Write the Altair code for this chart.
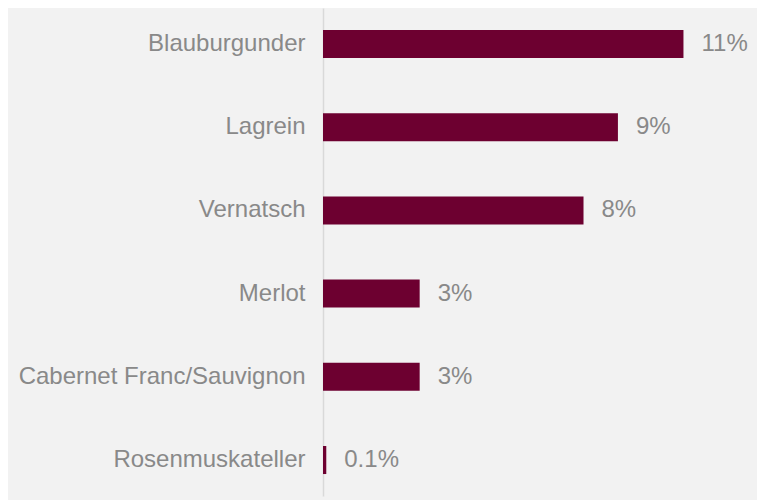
import altair as alt
import pandas as pd

categories = ["Blauburgunder", "Lagrein", "Vernatsch", "Merlot",
              "Cabernet Franc/Sauvignon", "Rosenmuskateller"]
values = [11.0, 9.0, 7.95, 2.95, 2.95, 0.1]
labels = ["11%", "9%", "8%", "3%", "3%", "0.1%"]

df = pd.DataFrame({"cat": categories, "val": values, "lab": labels})

y = alt.Y("cat:N", sort=categories,
          scale=alt.Scale(paddingInner=0.663, paddingOuter=0.264),
          axis=alt.Axis(title=None, ticks=False, domain=True,
                        domainColor="#D9D9D9", domainWidth=1.5,
                        labelFont="Liberation Sans", labelFontSize=24,
                        labelColor="#898989", labelPadding=18,
                        labelLimit=400, grid=False))
x = alt.X("val:Q", scale=alt.Scale(domain=[0, 13], nice=False), axis=None)

bars = alt.Chart(df).mark_bar(color="#6D0030").encode(x=x, y=y)
text = alt.Chart(df).mark_text(align="left", baseline="middle", dx=18,
                               font="Liberation Sans", fontSize=24,
                               color="#898989").encode(x=x, y=y, text="lab:N")

chart = (bars + text).properties(
    width=426, height=488,
    autosize=alt.AutoSizeParams(type="none"),
    padding={"left": 315, "top": 0, "right": 8, "bottom": 4},
    background="#F2F2F2",
).configure_view(stroke=None)

chart.save("out.html", embed_options={"renderer": "svg", "actions": False})
